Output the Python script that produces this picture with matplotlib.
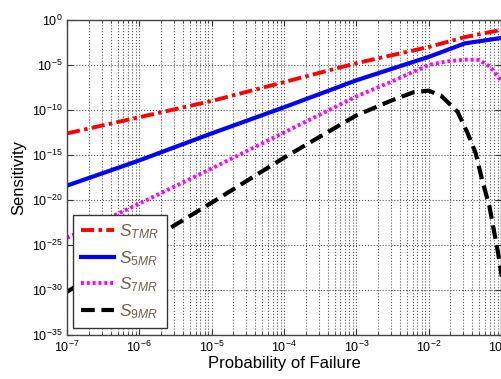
import numpy as np
import matplotlib
matplotlib.use("Agg")
import matplotlib.pyplot as plt
from matplotlib.ticker import LogLocator, NullLocator, NullFormatter

plt.rcParams['font.family'] = ['Liberation Sans', 'DejaVu Sans']
plt.rcParams['mathtext.fontset'] = 'custom'
plt.rcParams['mathtext.rm'] = 'Liberation Sans'
plt.rcParams['mathtext.it'] = 'Liberation Sans:italic'

# values, as log10(p) and log10(S)
logp_tmr = [-7, -6, -5, -4, -3, -2, -1.5, -1]
logs_tmr = [-12.6, -10.8, -9.0, -6.9, -4.8, -3.0, -1.9, -1.1]

logp_5mr = [-7, -6, -5, -4, -3, -2.5, -2, -1.5, -1]
logs_5mr = [-18.4, -15.6, -12.6, -9.7, -6.7, -5.4, -4.1, -2.6, -2.0]

logp_7mr = [-7, -6.5, -6, -5, -4, -3, -2.5, -2, -1.75, -1.5, -1.3, -1.15, -1]
logs_7mr = [-24.2, -22.3, -20.4, -16.5, -12.5, -8.5, -6.8, -5.0, -4.6, -4.4, -4.45, -5.2, -6.7]

logp_9mr = [-7, -6, -5, -4, -3, -2.5, -2.2, -2.0, -1.83, -1.6, -1.46, -1.35,
            -1.26, -1.16, -1.10, -1.04, -0.99]
logs_9mr = [-30.2, -25.2, -20.3, -15.3, -10.6, -8.9, -8.0, -7.85, -8.4, -10.2, -12.6, -14.8,
            -17.8, -20.7, -23.3, -25.9, -28.5]

xticks = [1e-7, 1e-6, 1e-5, 1e-4, 1e-3, 1e-2, 1e-1]
yticks = [1e0, 1e-5, 1e-10, 1e-15, 1e-20, 1e-25, 1e-30, 1e-35]

fig = plt.figure(figsize=(5.01, 3.79), dpi=100)
ax = fig.add_axes([67/501, 44/379, 434/501, 315/379])

ax.plot(10.0**np.array(logp_tmr), 10.0**np.array(logs_tmr), color='#ff0000', lw=2.8,
        dashes=(3.4, 1.1, 0.9, 1.1), label=r'$S_{TMR}$')
ax.plot(10.0**np.array(logp_5mr), 10.0**np.array(logs_5mr), color='#0000ff', lw=3.0,
        label=r'$S_{5MR}$')
ax.plot(10.0**np.array(logp_7mr), 10.0**np.array(logs_7mr), color='#ff00ff', lw=2.8,
        dashes=(0.75, 0.75), label=r'$S_{7MR}$')
ax.plot(10.0**np.array(logp_9mr), 10.0**np.array(logs_9mr), color='#000000', lw=3.0,
        dashes=(3.3, 1.6), label=r'$S_{9MR}$')

ax.set_xscale('log')
ax.set_yscale('log')
ax.set_xlim(1e-7, 1e-1)
ax.set_ylim(1e-35, 1e0)
ax.set_xticks(xticks)
ax.set_yticks(yticks)
ax.yaxis.set_minor_locator(NullLocator())
ax.xaxis.set_minor_locator(LogLocator(base=10, subs=np.arange(2, 10), numticks=20))
ax.xaxis.set_minor_formatter(NullFormatter())

ax.grid(True, which='major', linestyle=':', color='#555555', lw=0.8)
ax.grid(True, which='minor', axis='x', linestyle=':', color='#555555', lw=0.8)
ax.tick_params(which='both', direction='in', top=True, right=True, labelsize=9,
               color='#333333')
ax.tick_params(which='major', length=4)
ax.tick_params(which='minor', length=2)
for s in ax.spines.values():
    s.set_color('#444444')
    s.set_linewidth(1.0)

ax.set_xlabel('Probability of Failure', fontsize=12, labelpad=1)
ax.set_ylabel('Sensitivity', fontsize=12, labelpad=4)

leg = ax.legend(loc='lower left', bbox_to_anchor=(0.0145, 0.021), borderaxespad=0,
                fancybox=False, framealpha=1, edgecolor='#333333', fontsize=12.5,
                handlelength=1.9, handletextpad=0.3, labelspacing=0.45,
                borderpad=0.45)
leg.get_frame().set_linewidth(1.0)
for t in leg.get_texts():
    t.set_color('#6e5f4e')

fig.savefig('out.png', dpi=100)
